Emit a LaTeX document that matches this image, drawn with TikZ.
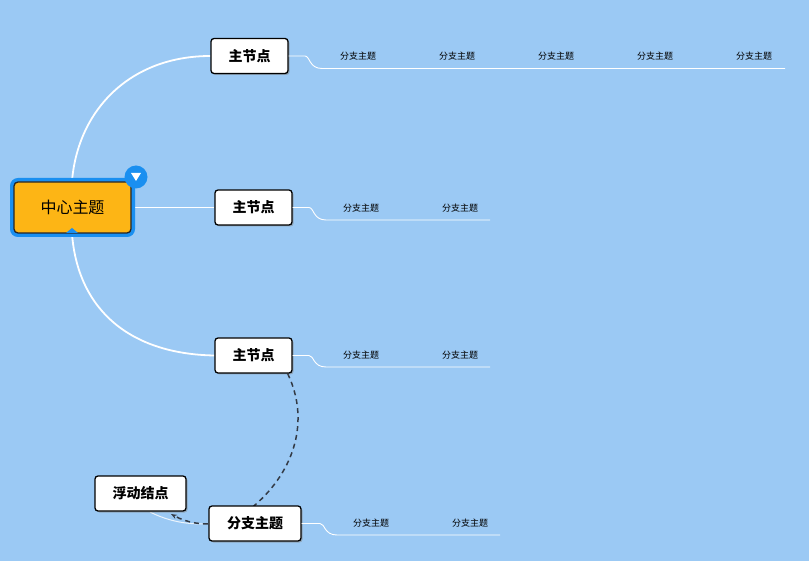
\documentclass[tikz,border=0pt]{standalone}
\usepackage{fontspec}
\setmainfont{Noto Sans CJK SC}
\usetikzlibrary{arrows.meta,shadows,backgrounds}
\definecolor{bg}{HTML}{9BC9F4}
\definecolor{orangec}{HTML}{FDB515}
\definecolor{bluec}{HTML}{1A8FF0}
\definecolor{dashc}{HTML}{333A45}
\tikzset{
  mainbox/.style={draw=black,line width=1.3pt,fill=white,rounded corners=3pt,minimum width=77pt,minimum height=35pt,font=\fontsize{14}{14}\selectfont\bfseries,drop shadow={shadow xshift=1.5pt,shadow yshift=-1.5pt,opacity=0.5}},
  sub/.style={font=\fontsize{9}{9}\selectfont,inner sep=0pt},
  wline/.style={white,line width=0.9pt},
  mline/.style={white,line width=1.8pt}
}
\begin{document}
\begin{tikzpicture}[x=1pt,y=-1pt]
\useasboundingbox (0,0) rectangle (809,561);
% center
\node[draw=bluec,line width=4pt,fill=orangec,rounded corners=6pt,minimum width=121pt,minimum height=55pt] (cblue) at (72.5,207.5) {};
\node[draw=black!85,line width=1.3pt,fill=orangec,rounded corners=4pt,minimum width=117pt,minimum height=51pt,font=\fontsize{16}{16}\selectfont] (c) at (72.5,207.5) {中心主题};
\fill[bluec] (66,233) -- (72,228) -- (78,233) -- cycle;
\node[circle,fill=bluec,minimum size=23pt,inner sep=0pt] (badge) at (136,177) {};
\fill[white] (131,173) -- (141,173) -- (136,181) -- cycle;
% main nodes
\node[mainbox] (m1) at (249.5,56) {主节点};
\node[mainbox] (m2) at (253.5,207.5) {主节点};
\node[mainbox] (m3) at (253.5,355.5) {主节点};
\node[mainbox,minimum width=91pt] (fl) at (140.5,493.5) {浮动结点};
\node[mainbox,minimum width=92pt] (br) at (255,523.5) {分支主题};
% branches
\coordinate (e1) at (785,68.5);
\draw[wline] (m1.east) -- (305,56) .. controls (310,56) and (309,68.5) .. (322,68.5) -- (e1);
\foreach \x in {358,457,556,655,754} \node[sub] at (\x,56) {分支主题};
\coordinate (e2) at (490,220);
\draw[wline] (m2.east) -- (309,207.5) .. controls (314,207.5) and (313,220) .. (326,220) -- (e2);
\foreach \x in {361,460} \node[sub] at (\x,208) {分支主题};
\coordinate (e3) at (490,367);
\draw[wline] (m3.east) -- (309,355.5) .. controls (314,355.5) and (313,367) .. (326,367) -- (e3);
\foreach \x in {361,460} \node[sub] at (\x,355) {分支主题};
\coordinate (e4) at (500,535);
\draw[wline] (br.east) -- (320,523.5) .. controls (325,523.5) and (324,535) .. (337,535) -- (e4);
\foreach \x in {371,470} \node[sub] at (\x,523) {分支主题};
\begin{scope}[on background layer]
\fill[bg] (0,0) rectangle (809,561);
% center connectors
\draw[mline] (72,181) .. controls (78,110) and (130,56) .. (m1.west);
\draw[mline] (c.east) -- (m2.west);
\draw[mline] (72,234) .. controls (78,310) and (130,354) .. (m3.west);
% float link
\draw[white,line width=1pt,opacity=0.8] (150,512) .. controls (170,522) and (190,525) .. (br.west);
\draw[dashc,line width=1.5pt,dash pattern=on 5pt off 4pt,-{Stealth[length=6pt,open]}] (m3.south east) ++(-5,0) .. controls (310,420) and (295,470) .. (255,505)
  .. controls (235,525) and (200,530) .. (171,514);
\end{scope}
\end{tikzpicture}
\end{document}
